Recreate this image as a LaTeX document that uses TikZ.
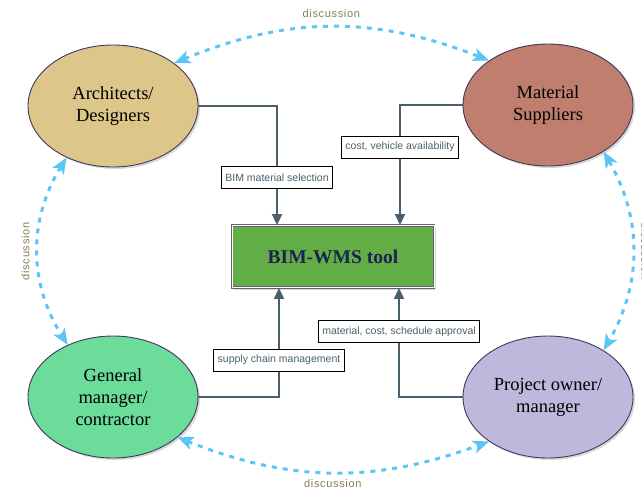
\documentclass[tikz,border=0pt]{standalone}
\usepackage{fontspec}
\setmainfont{Liberation Serif}
\setsansfont{Liberation Sans}
\usetikzlibrary{arrows.meta, shapes.geometric, shadows}
\definecolor{archi}{HTML}{DDC68A}
\definecolor{supplier}{HTML}{C07E6E}
\definecolor{general}{HTML}{6CDC9A}
\definecolor{owner}{HTML}{BEB8DC}
\definecolor{toolgreen}{HTML}{63AD47}
\definecolor{edge}{HTML}{43375A}
\definecolor{link}{HTML}{4A606C}
\definecolor{talk}{HTML}{5BC5F8}
\definecolor{talktext}{HTML}{8A7B50}
\definecolor{navy}{HTML}{1C2350}

\begin{document}
\begin{tikzpicture}[x=1pt, y=1pt,
      party/.style={ellipse, draw=edge, line width=0.9pt, minimum width=170pt, minimum height=122pt,
                    inner sep=0pt, align=center, font=\fontsize{18.5}{22}\selectfont,
                    drop shadow={shadow xshift=2pt, shadow yshift=-2pt, opacity=0.3}},
      toolbox/.style={draw=edge!80, double=white, double distance=1pt, line width=0.8pt, fill=toolgreen,
                      minimum width=202pt, minimum height=62pt, text=navy,
                      font=\bfseries\fontsize{19.5}{22}\selectfont,
                      drop shadow={shadow xshift=2pt, shadow yshift=-2pt, opacity=0.3}},
      tag/.style={draw=black, fill=white, line width=0.6pt, font=\sffamily\fontsize{10.5}{12}\selectfont,
                  inner xsep=4pt, minimum height=22pt},
      feed/.style={-{Triangle[length=11pt, width=10pt]}, link, line width=1.8pt},
      chat/.style={{Stealth[length=16pt, width=13pt, inset=4pt]}-{Stealth[length=16pt, width=13pt, inset=4pt]},
                   talk, line width=3pt, dash pattern=on 5pt off 6pt},
      chatlabel/.style={text=talktext, font=\sffamily\fontsize{11}{12}\selectfont\addfontfeature{LetterSpace=6}}]
    \useasboundingbox (0,0) rectangle (642,-493);
    \node[party, fill=archi] (arch) at (113,-106) {Architects/\\Designers};
    \node[party, fill=supplier] (supp) at (548,-105) {Material\\Suppliers};
    \node[party, fill=general] (gen) at (113,-397) {General\\manager/\\contractor};
    \node[party, fill=owner] (own) at (548,-397) {Project owner/\\manager};
    \node[toolbox] (tool) at (333,-256.5) {BIM-WMS tool};
    % data going into the tool
    \draw[feed] (arch.east) -| node[tag, pos=0.8] (sel) {BIM material selection} ([xshift=-56pt]tool.north);
    \draw[feed] (supp.west) -| node[tag, pos=0.675] (cost) {cost, vehicle availability} ([xshift=67pt]tool.north);
    \draw[feed] (gen.east) -| node[tag, pos=0.67] (scm) {supply chain management} ([xshift=-54pt]tool.south);
    \draw[feed] (own.west) -| node[tag, pos=0.8] (appr) {material, cost, schedule approval} ([xshift=66pt]tool.south);
    % discussion between the parties
    \draw[chat] (arch.35) to[bend left=22] node[chatlabel, midway, above=5pt] (d1) {discussion} (supp.143);
    \draw[chat] (arch.228) to[bend right=32] node[chatlabel, midway, rotate=90, anchor=south, inner sep=7pt] (d2) {discussion} (gen.131);
    \draw[chat] (supp.-40) to[bend left=30] node[chatlabel, midway, rotate=-90, anchor=south, inner sep=7pt] (d3) {discussion} (own.40);
    \draw[chat] (gen.-32) to[bend right=21] node[chatlabel, midway, below=3pt] (d4) {discussion} (own.217);
  \end{tikzpicture}
\end{document}
